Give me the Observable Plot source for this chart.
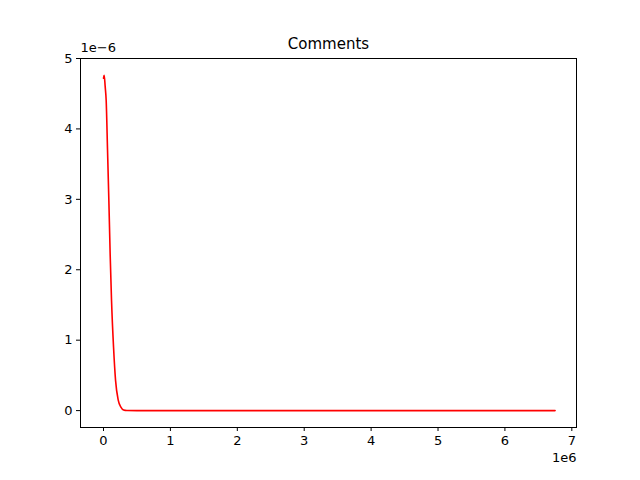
<!DOCTYPE html>
<html><head>
<script src="https://cdn.jsdelivr.net/npm/d3@7"></script>
<script src="https://cdn.jsdelivr.net/npm/@observablehq/plot@0.6"></script>
<style>body{margin:0;background:#fff}svg{font-family:"DejaVu Sans";}</style>
</head><body><div id="c"></div>
<script>
const xs = [0, 0.01, 0.025, 0.04, 0.06, 0.08, 0.1, 0.12, 0.15, 0.18, 0.22, 0.26, 0.3, 0.35, 0.5, 1, 2, 3, 4, 5, 6, 6.75];
const ys = [4.72, 4.76, 4.6, 4.40, 3.7, 2.98, 2.2, 1.56, 0.9, 0.43, 0.15, 0.05, 0.01, 0.002, 0, 0, 0, 0, 0, 0, 0, 0];
const xTicks = [0,1,2,3,4,5,6,7];
const yTicks = [0,1,2,3,4,5];
const data = xs.map((x,i)=>({x, y: ys[i]}));
const fmt = d => String(d);
const chart = Plot.plot({
  width: 640, height: 480,
  marginLeft: 80, marginRight: 64, marginTop: 58, marginBottom: 53,
  style: {fontSize: "13px", fontFamily: "DejaVu Sans", color: "black"},
  x: {domain: [-0.344, 7.07], label: null},
  y: {domain: [-0.24, 5], label: null},
  marks: [
    Plot.frame({stroke: "black"}),
    Plot.axisX({ticks: xTicks, tickFormat: fmt, tickSize: 4, tickPadding: 4, fontSize: 13, label: null}),
    Plot.axisY({ticks: yTicks, tickFormat: fmt, tickSize: 4, tickPadding: 4, fontSize: 13, label: null}),
    Plot.line(data, {x: "x", y: "y", stroke: "red", strokeWidth: 1.6, curve: "monotone-x"}),
    Plot.text(["Comments"], {frameAnchor: "top", dy: -20, fontSize: 15, fill: "black"}),
    Plot.text(["1e\u22126"], {frameAnchor: "top-left", dy: -16, dx: 0, fontSize: 13, textAnchor: "start", fill: "black"}),
    Plot.text(["1e6"], {frameAnchor: "bottom-right", dy: 34, dx: 0, fontSize: 13, textAnchor: "end", fill: "black"})
  ]
});
document.getElementById("c").appendChild(chart);
</script></body></html>
